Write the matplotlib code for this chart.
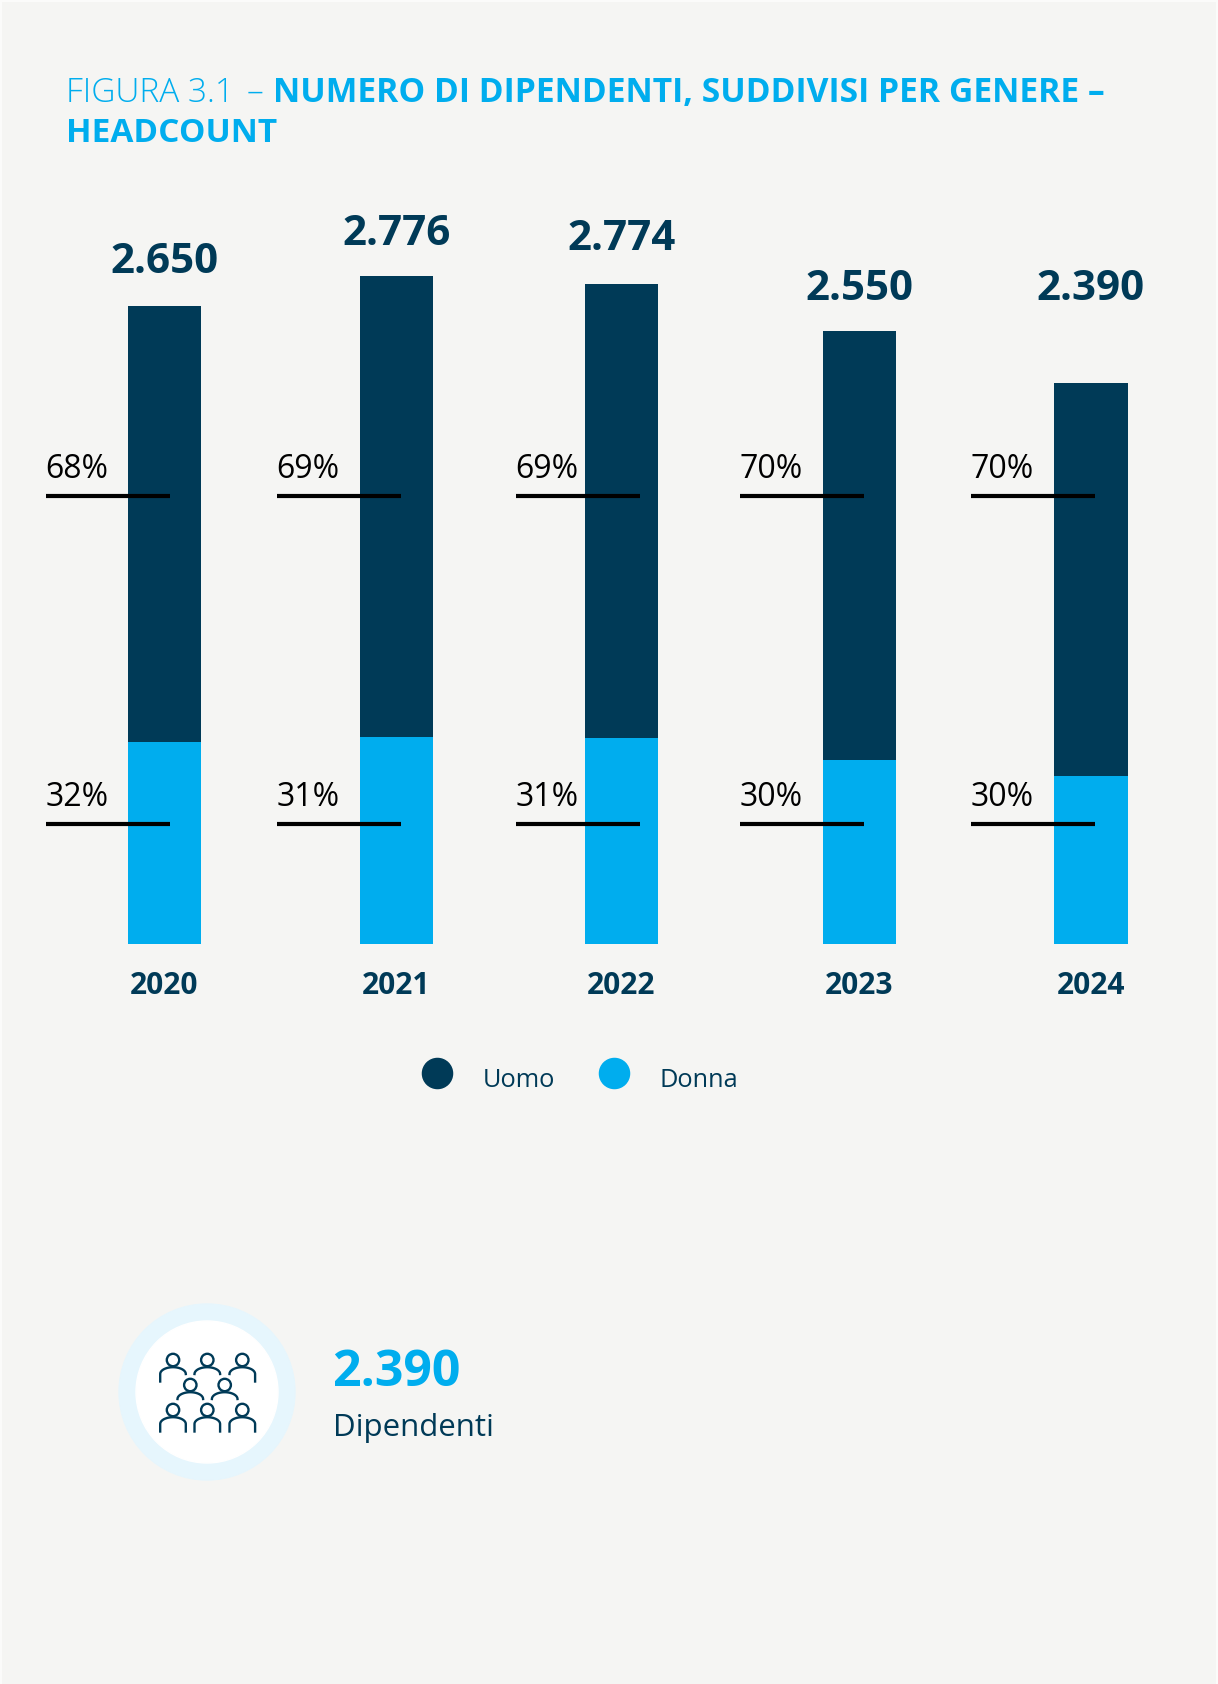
import numpy as np
from matplotlib import pyplot as plt

# Colours and font of the page
navy = '#003A57'
cyan = '#00ADEE'
plt.rcParams['font.family'] = ['Open Sans', 'DejaVu Sans']

# Headcount per year, bar heights
years = ['2020', '2021', '2022', '2023', '2024']
uomo = np.array([1810, 1916, 1889, 1783, 1630])
donna = np.array([840, 860, 856, 765, 700])
totals = ['2.650', '2.776', '2.774', '2.550', '2.390']
perc_uomo = ['68%', '69%', '69%', '70%', '70%']
perc_donna = ['32%', '31%', '31%', '30%', '30%']

# Horizontal places on the page, the years are not evenly spaced
x = np.array([164.5, 396.5, 621.5, 859.5, 1091])
line_start = np.array([46, 277, 516, 740, 971])
total_y = [2788, 2905, 2884, 2676, 2676]

plt.figure(figsize=(12.18, 16.84), dpi=100, facecolor='#FBFBFA')

# Page background, slightly inside the figure
plt.axes([2/1218, 0, 1214/1218, 1682/1684], facecolor='#F5F5F3')
plt.xticks([]), plt.yticks([])
plt.gca().spines[:].set_visible(False)

# Stacked bars, y axis in headcount
k = 0.2406  # pixels per employee
plt.axes([0, 0, 1, 1], facecolor='none')
plt.bar(x, donna, width=73.5, color=cyan)
plt.bar(x, uomo, width=73.5, bottom=donna, color=navy)
plt.xlim(0, 1218), plt.ylim(-740/k, 944/k)
plt.xticks(x, years, fontsize=21.5, fontweight='bold', color=navy)
plt.yticks([])
plt.tick_params(axis='x', length=0, pad=-513.6)
plt.gca().spines[:].set_visible(False)

# Totals above the bars
for i in range(5):
    plt.text(x[i], total_y[i], totals[i], ha='center', va='baseline', fontsize=30.3,
             fontweight='bold', color=navy)

# Percentage labels sitting on black lines
y_uomo, y_donna = (944-496)/k, (944-823.5)/k
plt.hlines(np.full(5, y_uomo), line_start, line_start+124, color='black', lw=3)
plt.hlines(np.full(5, y_donna), line_start, line_start+124, color='black', lw=3)
for i in range(5):
    plt.text(line_start[i]-0.5, (944-478)/k, perc_uomo[i], va='baseline', fontsize=23, color='black')
    plt.text(line_start[i]-0.5, (944-805.5)/k, perc_donna[i], va='baseline', fontsize=23, color='black')

# Legend with round markers
plt.scatter([], [], s=470, color=navy, label='Uomo')
plt.scatter([], [], s=470, color=cyan, label='Donna')
plt.legend(ncol=2, frameon=False, fontsize=18.3, labelcolor=navy, loc='center', scatterpoints=1,
           scatteryoffsets=[0.75], bbox_to_anchor=(0.472, 0.3586), handletextpad=0.77,
           columnspacing=1.33, handlelength=2)

# Everything else is placed in page pixels
plt.axes([0, 0, 1, 1], facecolor='none')
plt.xlim(0, 1218), plt.ylim(1684, 0)
plt.xticks([]), plt.yticks([])
plt.gca().spines[:].set_visible(False)

# Title in three pieces
plt.text(66, 102, 'FIGURA 3.1', fontsize=24, fontweight='light', color=cyan)
plt.text(247, 102, '–', fontsize=24, fontweight='light', color=cyan)
plt.text(273, 102, 'NUMERO DI DIPENDENTI, SUDDIVISI PER GENERE –', fontsize=24.2, fontweight='bold', color=cyan)
plt.text(66, 142, 'HEADCOUNT', fontsize=24, fontweight='bold', color=cyan)

# Round badge with the people icon
plt.gca().add_patch(plt.Circle((207, 1392), 88, color='#E6F6FD'))
plt.gca().add_patch(plt.Circle((207, 1392), 71, color='white'))
people = [(173, 1360, 21.5, 14), (207.3, 1360, 14, 14), (242.3, 1360, 14, 21.5),
          (190.3, 1385, 14, 14), (224.7, 1385, 14, 14),
          (173, 1410, 21.5, 21.5), (207.3, 1410, 21.5, 21.5), (242.3, 1410, 21.5, 21.5)]
t = np.linspace(np.pi, 0, 30)
for px, py, left, right in people:
    plt.gca().add_patch(plt.Circle((px, py), 6.2, fill=False, ec=navy, lw=1.7))
    arc_x = px + 12.8*np.cos(t)
    arc_y = py + 14 - 6.8*np.sin(t)
    arc_x = np.concatenate(([arc_x[0]], arc_x, [arc_x[-1]]))
    arc_y = np.concatenate(([py+left], arc_y, [py+right]))
    plt.plot(arc_x, arc_y, color=navy, lw=1.7)

# Text next to the badge
plt.text(332.5, 1386, '2.390', fontsize=36, fontweight='bold', color=cyan)
plt.text(333, 1435.7, 'Dipendenti', fontsize=22.5, color=navy)

plt.savefig('out.png', dpi=100)
